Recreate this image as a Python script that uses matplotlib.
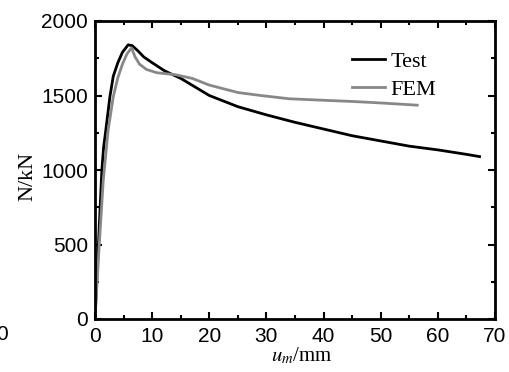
import matplotlib
matplotlib.use("Agg")
import matplotlib.pyplot as plt
from matplotlib.ticker import MultipleLocator

plt.rcParams["mathtext.fontset"] = "stix"

test_u = [0, 0.6, 1.2, 1.5, 1.9, 2.6, 3.2, 4.0, 4.8, 5.8, 6.5, 7.5, 8.5, 10.0, 12.2, 15.0, 20.0, 25.0, 30.0, 35.0, 40.0, 45.0, 50.0, 55.0, 60.0, 65.0, 67.3]
test_N = [0, 500, 1000, 1150, 1270, 1490, 1630, 1720, 1790, 1840, 1835, 1800, 1760, 1720, 1665, 1615, 1500, 1425, 1370, 1320, 1275, 1230, 1195, 1160, 1135, 1105, 1090]

fem_u = [0, 0.75, 1.45, 2.3, 3.2, 4.0, 4.8, 5.6, 6.4, 7.0, 7.8, 9.0, 10.8, 14.0, 17.0, 20.0, 25.0, 29.0, 34.0, 40.0, 45.0, 50.0, 56.4]
fem_N = [0, 500, 933, 1268, 1492, 1620, 1710, 1780, 1819, 1760, 1710, 1675, 1653, 1640, 1615, 1570, 1520, 1500, 1478, 1468, 1460, 1450, 1435]

fig = plt.figure(figsize=(5.1, 3.72), dpi=100)
ax = fig.add_axes([95/510, 1-319/372, 400/510, 298/372])

ax.plot(test_u, test_N, color="black", lw=2.0, label="Test")
ax.plot(fem_u, fem_N, color="#888888", lw=2.0, label="FEM")

ax.set_xlim(0, 70)
ax.set_ylim(0, 2000)
ax.xaxis.set_major_locator(MultipleLocator(10))
ax.xaxis.set_minor_locator(MultipleLocator(5))
ax.yaxis.set_major_locator(MultipleLocator(500))
ax.yaxis.set_minor_locator(MultipleLocator(250))
ax.tick_params(which="both", direction="in", top=True, right=True, width=1.5)
ax.tick_params(which="major", length=5, labelsize=15)
ax.tick_params(axis="x", which="major", pad=6)
ax.tick_params(axis="y", which="major", pad=5)
ax.tick_params(which="minor", length=3)
for lab in ax.get_xticklabels() + ax.get_yticklabels():
    lab.set_fontfamily("Liberation Sans")
for s in ax.spines.values():
    s.set_linewidth(2.0)

ax.set_xlabel("$u_m$/mm", fontfamily="Liberation Serif", fontsize=15)
ax.xaxis.set_label_coords(0.5175, -0.09)
ax.set_ylabel("N/kN", fontfamily="Liberation Serif", fontsize=16)
ax.yaxis.set_label_coords(-0.145, 0.48)

leg = ax.legend(loc="upper right", bbox_to_anchor=(0.9025, 0.965), frameon=False,
                prop={"family": "Liberation Serif", "size": 16},
                handlelength=1.45, handletextpad=0.25, labelspacing=0.315)

fig.text(2/510, 1-335/372, "0", fontfamily="Liberation Sans", fontsize=15, ha="center", va="center")

fig.savefig("out.png", dpi=100)
